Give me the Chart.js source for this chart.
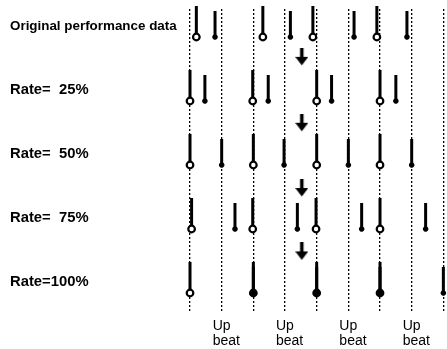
<!DOCTYPE html>
<html>
<head>
<meta charset="utf-8">
<script src="https://cdn.jsdelivr.net/npm/chart.js@4"></script>
<style>
  html, body { margin: 0; padding: 0; background: #fff; }
  #wrap { width: 447px; height: 349px; }
</style>
</head>
<body>
<div id="wrap"><canvas id="quantize" width="447" height="349"></canvas></div>
<script>
// ── Quantize rate diagram: note heads on an 8th-note grid, one row per rate ──

const FONT = "'Liberation Sans', Arial, Helvetica, sans-serif";

// rows, top to bottom
const rowLabels = ['Original performance data', 'Rate=  25%', 'Rate=  50%', 'Rate=  75%', 'Rate=100%'];

// beat grid in 8th-note units, odd ones are the up beats
const beatTicks = [0, 1, 2, 3, 4, 5, 6, 7, 8];
const upBeats   = [1, 3, 5, 7];

// down-beat notes (open circle heads), one list per row
const downNotes = [
  [0.2, 2.3, 3.88, 5.9],
  [0, 1.98, 4, 6],
  [0, 2, 4, 6],
  [0.05, 1.98, 3.98, 6],
  [0, 2, 4, 6]
];

// up-beat notes (x heads), one list per row
const upNotes = [
  [0.79, 3.17, 5.18, 6.85],
  [0.47, 2.47, 4.47, 6.5],
  [1, 2.97, 5, 7],
  [1.42, 3.39, 5.42, 7.44],
  [2, 4, 6, 8]
];

// arrows between the rows
const arrowX    = 3.53;
const arrowRows = [0.31, 1.34, 2.36, 3.35];

const toPoints = rows => rows.flatMap((xs, r) => xs.map(x => ({ x, y: r })));

// down arrow glyph used as a point style
function makeArrow() {
  const c = document.createElement('canvas');
  c.width = 13; c.height = 18;
  const g = c.getContext('2d');
  g.fillStyle = '#000';
  g.fillRect(4.75, 0, 3.5, 10);
  g.beginPath();
  g.moveTo(0, 9); g.lineTo(13, 9); g.lineTo(6.5, 17.5);
  g.closePath(); g.fill();
  return c;
}

// stems go up from every note head
const stemPlugin = {
  id: 'stems',
  beforeDatasetsDraw(chart) {
    const ctx = chart.ctx;
    ctx.save();
    ctx.strokeStyle = '#000';
    ctx.lineWidth = 3;
    chart.data.datasets.forEach((ds, i) => {
      if (!ds.stem) return;
      chart.getDatasetMeta(i).data.forEach(pt => {
        ctx.beginPath();
        ctx.moveTo(pt.x, pt.y);
        ctx.lineTo(pt.x, pt.y - ds.stem);
        ctx.stroke();
      });
    });
    ctx.restore();
  }
};

new Chart(document.getElementById('quantize'), {
  type: 'scatter',
  data: {
    datasets: [
      {
        label: 'up beat',
        data: toPoints(upNotes),
        pointStyle: 'star',
        pointRadius: 2.7,
        pointBorderWidth: 1.8,
        pointBorderColor: '#000',
        pointBackgroundColor: '#000',
        stem: 26,
        order: 0
      },
      {
        label: 'down beat',
        data: toPoints(downNotes),
        pointStyle: 'circle',
        pointRadius: 3.3,
        pointBorderWidth: 2.2,
        pointBorderColor: '#000',
        pointBackgroundColor: '#fff',
        stem: 31,
        order: 1
      },
      {
        label: 'arrow',
        data: arrowRows.map(y => ({ x: arrowX, y })),
        pointStyle: makeArrow(),
        pointRadius: 8,
        order: 2
      }
    ]
  },
  options: {
    responsive: false,
    animation: false,
    layout: { autoPadding: false, padding: { left: 10, top: 9, right: 0, bottom: 0 } },
    plugins: { legend: { display: false }, tooltip: { enabled: false } },
    scales: {
      x: {
        type: 'linear',
        min: -0.316,
        max: 8.115,
        afterBuildTicks: s => { s.ticks = beatTicks.map(v => ({ value: v })); },
        afterFit: s => { s.height = 37; s.paddingLeft = 0; s.paddingRight = 0; },
        grid: { color: '#000', lineWidth: 1.3, drawTicks: false },
        border: { display: false, dash: [2, 2] },
        ticks: {
          autoSkip: false,
          maxRotation: 0,
          align: 'start',
          labelOffset: -9,
          padding: 6,
          color: '#000',
          font: { family: FONT, size: 14, lineHeight: 1.1 },
          callback: v => upBeats.includes(v) ? ['Up', 'beat'] : ''
        }
      },
      y: {
        type: 'linear',
        reverse: true,
        min: -0.4375,
        max: 4.297,
        afterBuildTicks: s => { s.ticks = rowLabels.map((t, i) => ({ value: i })); },
        afterFit: s => { s.width = 170; s.paddingTop = 0; s.paddingBottom = 0; },
        grid: { display: false },
        border: { display: false },
        ticks: {
          autoSkip: false,
          crossAlign: 'far',
          labelOffset: -11,
          color: '#000',
          font: c => ({ family: FONT, weight: 'bold', size: c.index === 0 ? 13.4 : 14.8 }),
          callback: v => rowLabels[v]
        }
      }
    }
  },
  plugins: [stemPlugin]
});
</script>
</body>
</html>
